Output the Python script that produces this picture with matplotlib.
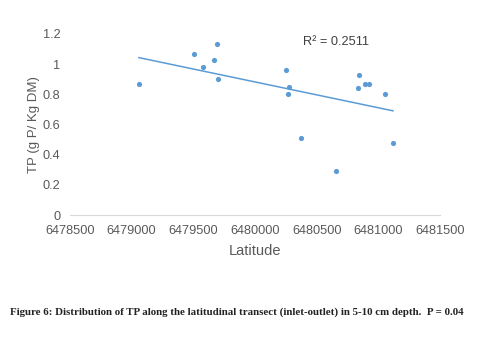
import numpy as np
import matplotlib.pyplot as plt
from matplotlib.ticker import FuncFormatter

# latitude (m) and total phosphorus (g P / kg DM)
latitude = [6479059, 6479508, 6479578, 6479665, 6479689, 6479697,
            6480249, 6480265, 6480276, 6480373, 6480657,
            6480843, 6480838, 6480892, 6480924, 6481054, 6481119]
tp = [0.87, 1.07, 0.98, 1.025, 1.135, 0.90,
      0.96, 0.805, 0.85, 0.51, 0.295,
      0.93, 0.84, 0.87, 0.87, 0.805, 0.48]

x_ticks = [6478500, 6479000, 6479500, 6480000, 6480500, 6481000, 6481500]
y_ticks = [0, 0.2, 0.4, 0.6, 0.8, 1.0, 1.2]
r2_text = "R² = 0.2511"
caption = ("Figure 6: Distribution of TP along the latitudinal transect "
           "(inlet-outlet) in 5-10 cm depth.  P = 0.04")

blue = "#5B9BD5"
grey = "#595959"

plt.rcParams['font.family'] = ['Liberation Sans', 'DejaVu Sans']

fig = plt.figure(figsize=(4.83, 3.40), dpi=100)
ax = fig.add_axes([70 / 483, 1 - 215 / 340, 370 / 483, 181 / 340])

ax.scatter(latitude, tp, s=14, color=blue, zorder=3, linewidths=0)

# linear trendline over the data range
xs = np.array(latitude, dtype=float)
slope, icpt = np.polyfit(xs - xs.mean(), tp, 1)
xl = np.array([xs.min(), xs.max()])
ax.plot(xl, slope * (xl - xs.mean()) + icpt, color=blue, lw=1.1, zorder=2)

ax.set_xlim(x_ticks[0], x_ticks[-1])
ax.set_ylim(0, 1.2)
ax.set_xticks(x_ticks)
ax.set_yticks(y_ticks)
ax.xaxis.set_major_formatter(FuncFormatter(lambda v, p: f"{int(v)}"))
ax.yaxis.set_major_formatter(FuncFormatter(lambda v, p: f"{v:g}"))
ax.tick_params(length=0, labelsize=9.2, colors=grey)
ax.tick_params(axis="x", pad=7)
ax.tick_params(axis="y", pad=7)

for s in ["top", "right", "left"]:
    ax.spines[s].set_visible(False)
ax.spines["bottom"].set_color("#D9D9D9")
ax.spines["bottom"].set_linewidth(0.8)

ax.set_xlabel("Latitude", fontsize=10.5, color=grey, labelpad=5)
ax.set_ylabel("TP (g P/ Kg DM)", fontsize=9.5, color=grey, labelpad=2)

ax.text(0.63, 0.956, r2_text, transform=ax.transAxes, fontsize=9.2,
        color="#404040", ha="left", va="center")

fig.text(10 / 483, 1 - 312 / 340, caption, fontsize=7.8, fontweight="bold",
         family=["Liberation Serif", "DejaVu Serif"], color="#222222",
         ha="left", va="center")

fig.savefig("out.png", dpi=100, facecolor="white")
